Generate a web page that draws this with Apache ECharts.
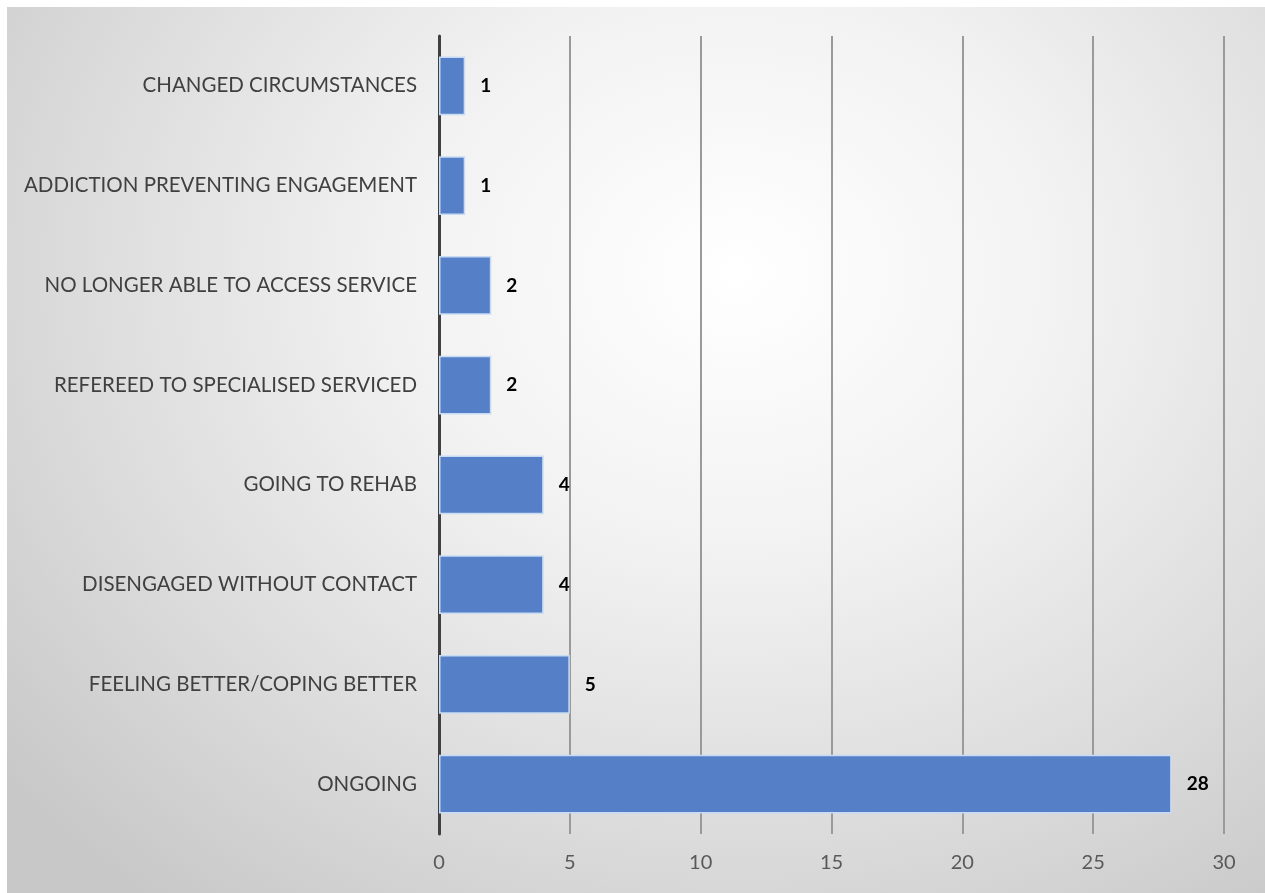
<!DOCTYPE html>
<html>
<head>
<meta charset="utf-8">
<script src="https://cdn.jsdelivr.net/npm/echarts@6/dist/echarts.min.js"></script>
<style>
  html, body { margin: 0; padding: 0; background: #ffffff; }
  .bg {
    position: absolute; left: 7px; top: 7px; width: 1258px; height: 886px;
    background: radial-gradient(ellipse 75% 90% at 58% 30%, #ffffff 0%, #f2f2f2 35%, #dcdcdc 70%, #c8c8c8 100%);
  }
  #chart { position: absolute; left: 0; top: 0; width: 1265px; height: 893px; }
</style>
</head>
<body>
<div class="bg"></div>
<div id="chart"></div>
<script>
// categories listed bottom to top
const categories = [
  'ONGOING',
  'FEELING BETTER/COPING BETTER',
  'DISENGAGED WITHOUT CONTACT',
  'GOING TO REHAB',
  'REFEREED TO SPECIALISED SERVICED',
  'NO LONGER ABLE TO ACCESS SERVICE',
  'ADDICTION PREVENTING ENGAGEMENT',
  'CHANGED CIRCUMSTANCES'
]
const counts = [28, 5, 4, 4, 2, 2, 1, 1]

const chart = echarts.init(document.getElementById('chart'))

const option = {
  backgroundColor: 'transparent',
  animation: false,
  grid: { left: 439, right: 41, top: 36, bottom: 59, containLabel: false },
  xAxis: {
    type: 'value',
    min: 0,
    max: 30,
    interval: 5,
    axisLine: { show: false },
    axisTick: { show: false },
    axisLabel: { color: '#595959', fontSize: 20, fontFamily: 'Lato', margin: 19 },
    splitLine: { lineStyle: { color: '#9a9a9a', width: 2 } }
  },
  yAxis: {
    type: 'category',
    data: categories,
    axisLine: { show: true, lineStyle: { color: '#404040', width: 3 } },
    axisTick: { show: false },
    axisLabel: { color: '#404040', fontSize: 20.5, fontFamily: 'Lato', margin: 22 }
  },
  series: [
    {
      type: 'bar',
      data: counts,
      barCategoryGap: '41%',
      itemStyle: { color: '#5580c8', borderColor: '#c7dcf4', borderWidth: 1.5 },
      label: {
        show: true,
        position: 'right',
        distance: 15,
        color: '#000000',
        fontWeight: 'bold',
        fontSize: 19,
        fontFamily: 'Lato'
      }
    }
  ]
}

chart.setOption(option)
</script>
</body>
</html>
